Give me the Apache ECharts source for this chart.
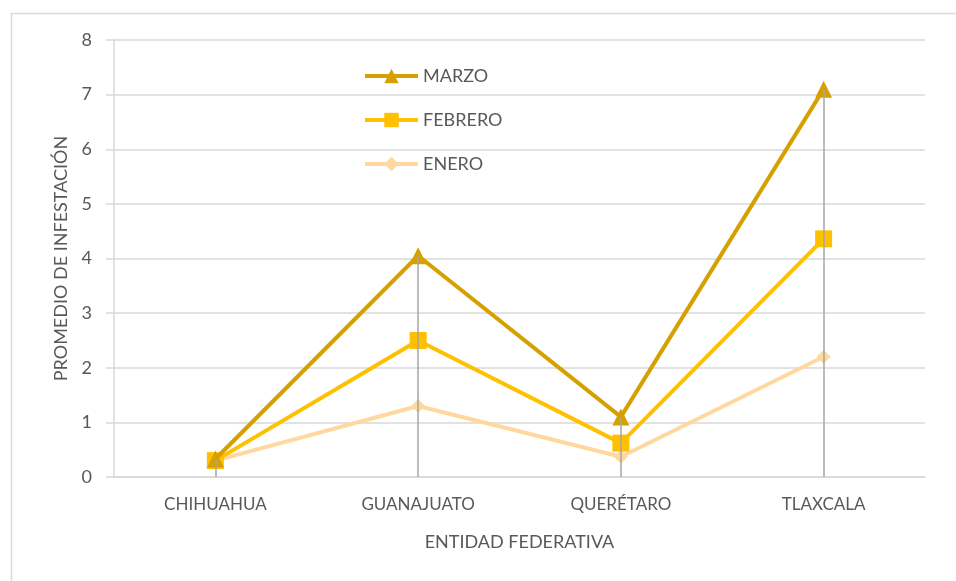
<!DOCTYPE html>
<html>
<head>
<meta charset="utf-8">
<script src="https://cdn.jsdelivr.net/npm/echarts@6/dist/echarts.min.js"></script>
<style>
  html, body { margin: 0; padding: 0; background: #fff; }
  #main { width: 956px; height: 581px; }
</style>
</head>
<body>
<div id="main"></div>
<script>
var categories = ['CHIHUAHUA', 'GUANAJUATO', 'QUERÉTARO', 'TLAXCALA'];
var marzo = [0.33, 4.05, 1.1, 7.1];
var febrero = [0.3, 2.5, 0.62, 4.36];
var enero = [0.3, 1.3, 0.37, 2.2];
var yTicks = [0, 1, 2, 3, 4, 5, 6, 7, 8];

var font = 'Lato, "Open Sans", sans-serif';
var textColor = '#595959';

// lineas de caida desde el punto mas alto hasta el eje
var dropLines = [];
for (var i = 0; i < categories.length; i++) {
    var peak = Math.max(marzo[i], febrero[i], enero[i]);
    dropLines.push([{coord: [categories[i], 0]}, {coord: [categories[i], peak]}]);
}

var myChart = echarts.init(document.getElementById('main'));

var option = {
    backgroundColor: '#ffffff',
    textStyle: {fontFamily: font},
    graphic: [{
        type: 'rect',
        left: 9, top: 11,
        shape: {width: 960, height: 600},
        style: {fill: 'none', stroke: '#d9d9d9', lineWidth: 1.5},
        silent: true
    }],
    legend: {
        data: ['MARZO', 'FEBRERO', 'ENERO'],
        orient: 'vertical',
        left: 358,
        top: 62,
        itemWidth: 53,
        itemHeight: 18,
        itemGap: 26,
        lineStyle: {width: 4},
        textStyle: {color: textColor, fontSize: 18, fontFamily: font}
    },
    grid: {left: 114, right: 31, top: 40, bottom: 104},
    xAxis: {
        type: 'category',
        data: categories,
        boundaryGap: true,
        name: 'ENTIDAD FEDERATIVA',
        nameLocation: 'middle',
        nameGap: 56,
        nameTextStyle: {color: textColor, fontSize: 18, fontFamily: font},
        axisLine: {lineStyle: {color: '#d9d9d9', width: 1.5}},
        axisTick: {show: false},
        axisLabel: {color: textColor, fontSize: 17, margin: 19, fontFamily: font}
    },
    yAxis: {
        type: 'value',
        min: yTicks[0],
        max: yTicks[yTicks.length - 1],
        interval: 1,
        name: 'PROMEDIO DE INFESTACIÓN',
        nameLocation: 'middle',
        nameGap: 42,
        nameRotate: 90,
        nameTextStyle: {color: textColor, fontSize: 18, fontFamily: font},
        axisLine: {show: true, lineStyle: {color: '#d9d9d9', width: 1.5}},
        axisTick: {show: true, length: 8, lineStyle: {color: '#d9d9d9', width: 1.5}},
        axisLabel: {color: textColor, fontSize: 18, margin: 22, fontFamily: font},
        splitLine: {lineStyle: {color: '#d9d9d9', width: 1.5}}
    },
    series: [
        {
            name: 'drop',
            type: 'line',
            data: [],
            z: 1,
            silent: true,
            markLine: {
                silent: true,
                symbol: 'none',
                label: {show: false},
                lineStyle: {color: '#a6a6a6', width: 1.5, type: 'solid'},
                data: dropLines
            }
        },
        {
            name: 'ENERO',
            type: 'line',
            data: enero,
            z: 2,
            symbol: 'diamond',
            symbolSize: 14,
            color: '#ffd8a0',
            lineStyle: {width: 4, color: '#ffd8a0'},
            itemStyle: {color: '#ffd8a0'}
        },
        {
            name: 'FEBRERO',
            type: 'line',
            data: febrero,
            z: 3,
            symbol: 'rect',
            symbolSize: 17,
            color: '#ffc000',
            lineStyle: {width: 4, color: '#ffc000'},
            itemStyle: {color: '#ffc000'}
        },
        {
            name: 'MARZO',
            type: 'line',
            data: marzo,
            z: 4,
            symbol: 'triangle',
            symbolSize: 17,
            color: '#d6a000',
            lineStyle: {width: 4, color: '#d6a000'},
            itemStyle: {color: '#d6a000'}
        }
    ]
};

myChart.setOption(option);
</script>
</body>
</html>
